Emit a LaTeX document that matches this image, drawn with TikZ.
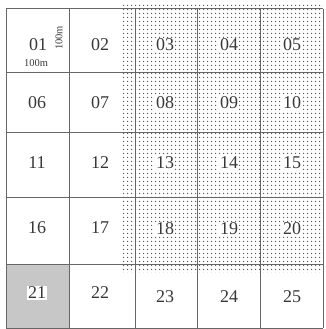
\documentclass[tikz,border=0pt]{standalone}
\usepackage{fontspec}
\setmainfont{Liberation Serif}
\usetikzlibrary{patterns.meta}
\begin{document}
\begin{tikzpicture}[x=1pt,y=-1pt,
  gridline/.style={draw=black!60, line width=1pt},
  num/.style={text=black!78, font=\fontsize{18}{18}\selectfont, inner sep=1.2pt},
  numw/.style={num, fill=white},
  small/.style={text=black!78, font=\fontsize{10.5}{10.5}\selectfont, inner sep=0pt}]
\useasboundingbox (0,0) rectangle (326,329);
% dotted region
\fill[pattern={Dots[distance=4pt, radius=0.9pt]}, pattern color=black!65] (122,4) rectangle (323,272);
% grey cell 21
\fill[black!22] (6,264) rectangle (69,328);
% grid
\foreach \x in {6,69,135,197,260,323} \draw[gridline] (\x,9) -- (\x,328);
\foreach \y in {9,72,132,197,264,328} \draw[gridline] (6,\y) -- (323,\y);
% labels
\node[num] (c01) at (38,45) {01};
\node[small] (h100) at (36,63) {100m};
\node[small, rotate=90] (v100) at (59,38) {100m};
\node[num] (c02) at (100,45) {02};
\node[numw] (c03) at (165,45) {03};
\node[numw] (c04) at (229,45) {04};
\node[numw] (c05) at (292,45) {05};
\node[num] (c06) at (37,103) {06};
\node[num] (c07) at (100,103) {07};
\node[numw] (c08) at (165,103) {08};
\node[numw] (c09) at (229,103) {09};
\node[numw] (c10) at (292,103) {10};
\node[num] (c11) at (37,163) {11};
\node[num] (c12) at (100,163) {12};
\node[numw] (c13) at (165,163) {13};
\node[numw] (c14) at (229,163) {14};
\node[numw] (c15) at (292,163) {15};
\node[num] (c16) at (37,228) {16};
\node[num] (c17) at (100,228) {17};
\node[numw] (c18) at (165,229) {18};
\node[numw] (c19) at (229,229) {19};
\node[numw] (c20) at (292,229) {20};
\node[numw] (c21) at (37,293) {21};
\node[num] (c22) at (100,293) {22};
\node[num] (c23) at (165,297) {23};
\node[num] (c24) at (229,297) {24};
\node[num] (c25) at (292,297) {25};
\end{tikzpicture}
\end{document}
